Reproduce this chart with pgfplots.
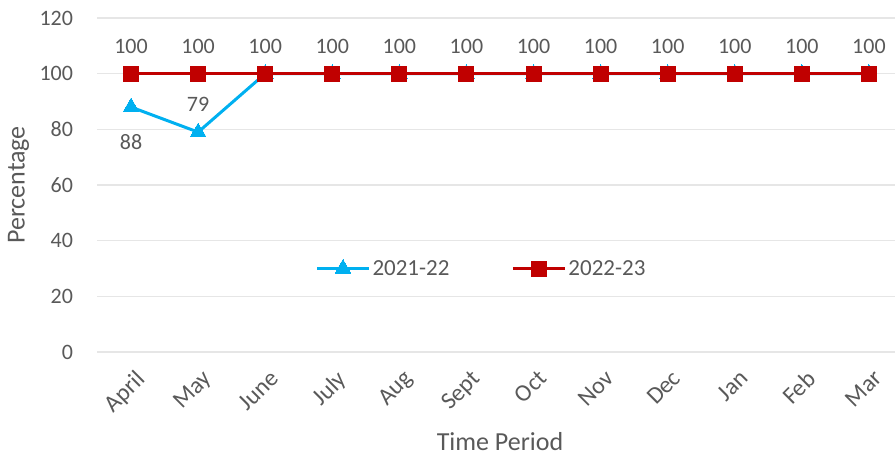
\documentclass[border=0pt]{standalone}
\usepackage{pgfplots}
\pgfplotsset{compat=1.18}
\usepackage{fontspec}
\setmainfont{Carlito}
\definecolor{txt}{HTML}{595959}
\definecolor{grd}{HTML}{E6E6E6}
\definecolor{cy}{HTML}{00B0F0}
\definecolor{dr}{HTML}{C00000}
\begin{document}
\begin{tikzpicture}
\useasboundingbox (0,0) rectangle (895pt,456pt);
\begin{axis}[
    at={(97.5pt,104pt)}, anchor=south west,
    scale only axis, width=805pt, height=334pt,
    xmin=-0.5, xmax=11.5, ymin=0, ymax=120,
    ytick={0,20,...,120},
    xtick={0,...,11},
    xticklabels={April,May,June,July,Aug,Sept,Oct,Nov,Dec,Jan,Feb,Mar},
    axis line style={draw=none},
    major tick length=0pt,
    ymajorgrids, grid style={grd, line width=1.2pt},
    tick label style={font=\fontsize{22}{24}\selectfont, text=txt},
    /pgf/number format/assume math mode=true,
    x tick label style={font=\fontsize{24}{26}\selectfont,
        rotate=45, anchor=north east, xshift=-6pt, yshift=-11pt},
    yticklabel style={anchor=east, xshift=-21pt},
    xlabel={Time Period}, ylabel={Percentage},
    label style={font=\fontsize{26}{28}\selectfont, text=txt},
    xlabel style={at={(axis description cs:0.5,-0.268)}, anchor=center},
    ylabel style={at={(axis description cs:-0.098,0.5)}, anchor=center},
    legend style={at={(0.477,0.25)}, anchor=center, draw=none, fill=none,
        font=\fontsize{23}{26}\selectfont, text=txt,
        legend columns=2, /tikz/every even column/.append style={column sep=60pt}},
    legend image code/.code={
        \draw[mark repeat=2, mark phase=2, #1]
            plot coordinates {(0pt,0pt) (26pt,0pt) (52pt,0pt)};
    },
    nodes near coords style={font=\fontsize{22}{24}\selectfont, text=txt},
]
\addplot[cy, line width=3pt, mark=triangle*, mark size=9pt,
    mark options={solid, line width=0pt}]
    coordinates {(0,88) (1,79) (2,100) (3,100) (4,100) (5,100)
                 (6,100) (7,100) (8,100) (9,100) (10,100) (11,100)};
\addlegendentry{2021-22}
\addplot[dr, line width=3pt, mark=square*, mark size=7.5pt,
    mark options={solid, line width=0pt},
    nodes near coords, nodes near coords align={above},
    every node near coord/.append style={yshift=17pt}]
    coordinates {(0,100) (1,100) (2,100) (3,100) (4,100) (5,100)
                 (6,100) (7,100) (8,100) (9,100) (10,100) (11,100)};
\addlegendentry{2022-23}
\addplot[draw=none, mark=none, forget plot,
    nodes near coords, nodes near coords align={below},
    every node near coord/.append style={yshift=-24pt}]
    coordinates {(0,88)};
\addplot[draw=none, mark=none, forget plot,
    nodes near coords, nodes near coords align={above},
    every node near coord/.append style={yshift=17pt}]
    coordinates {(1,79)};
\end{axis}
\end{tikzpicture}
\end{document}
